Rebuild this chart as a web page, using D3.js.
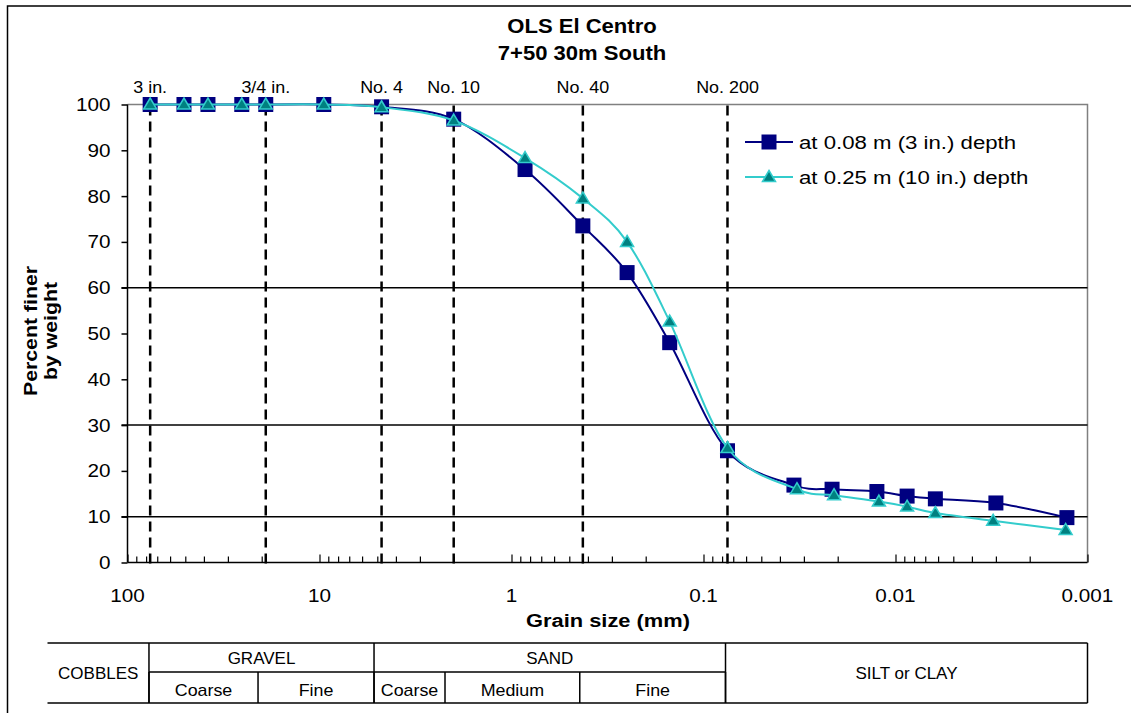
<!DOCTYPE html>
<meta charset="utf-8">
<body style="margin:0;background:#fff">
<script src="https://cdn.jsdelivr.net/npm/d3@7"></script>
<script>

    var width = 1131,
        height = 713;

    // grain sizes (mm): sieves shared by both samples, then hydrometer readings
    var sieveSizes = [76.2, 50.8, 38.1, 25.4, 19.05, 9.5, 4.75, 2.0, 0.85, 0.425, 0.25, 0.15, 0.075];
    var hydroSizes1 = [0.0338, 0.0214, 0.0125, 0.0087, 0.0062, 0.0030, 0.00128];
    var hydroSizes2 = [0.0326, 0.0209, 0.0122, 0.0087, 0.0062, 0.0031, 0.00130];

    // percent finer by weight
    var finer1 = [100, 100, 100, 100, 100, 100, 99.5, 96.8, 85.8, 73.5, 63.3, 48.0, 24.4,
                  16.9, 16.0, 15.5, 14.5, 13.9, 13.0, 9.8];
    var finer2 = [100, 100, 100, 100, 100, 100, 99.4, 96.5, 88.3, 79.5, 70.0, 52.6, 25.0,
                  16.0, 14.7, 13.3, 12.2, 10.8, 9.1, 7.1];

    var seriesNames = ["at 0.08 m (3 in.) depth", "at 0.25 m (10 in.) depth"];

    var sieveMarks = [76.2, 19.05, 4.75, 2.0, 0.425, 0.075];
    var sieveLabels = ["3 in.", "3/4 in.", "No. 4", "No. 10", "No. 40", "No. 200"];

    var yTicks = [0, 10, 20, 30, 40, 50, 60, 70, 80, 90, 100];
    var yRules = [10, 30, 60];
    var xDecades = [100, 10, 1, 0.1, 0.01, 0.001];
    var xDecadeLabels = ["100", "10", "1", "0.1", "0.01", "0.001"];

    // soil classification strip under the chart (boundaries as drawn in the picture, mm)
    var soilMain = ["COBBLES", "GRAVEL", "SAND", "SILT or CLAY"];
    var soilMainBounds = [77.3, 5.2, 0.0768];
    var soilSub = ["Coarse", "Fine", "Coarse", "Medium", "Fine"];
    var soilSubBounds = [77.3, 20.9, 5.2, 2.22, 0.441, 0.0768];

    var font = "'Liberation Sans', Arial, sans-serif";

    var svg = d3.select("body").append("svg")
            .attr("width", width)
            .attr("height", height)
            .style("font-family", font);

    svg.append("rect").attr("width", width).attr("height", height).attr("fill", "#fff");

    var x = d3.scaleLog().domain([100, 0.001]).range([127.5, 1087.5]);
    var y = d3.scaleLinear().domain([0, 100]).range([562.5, 104.5]);

    // text in the original is drawn a bit wider than normal Arial
    function label(g, px, py, str, size, sx, anchor, bold, rot) {
        return g.append("text")
                .attr("transform", "translate(" + px + "," + py + ")" + (rot ? " rotate(" + rot + ")" : "") + " scale(" + sx + ",1)")
                .attr("text-anchor", anchor || "middle")
                .attr("font-size", size)
                .attr("font-weight", bold ? "bold" : null)
                .attr("fill", "#000")
                .text(str);
    }

    // outer frame (top + left edges)
    svg.append("path")
            .attr("d", "M7.5," + height + "V6H" + width)
            .attr("fill", "none").attr("stroke", "#000").attr("stroke-width", 1.5);

    // title
    label(svg, 582, 33, "OLS El Centro", 21, 1.05, "middle", true);
    label(svg, 582, 60, "7+50 30m South", 21, 1.05, "middle", true);

    var x0 = x.range()[0], x1 = x.range()[1];

    // plot border (grey top/right)
    svg.append("path")
            .attr("d", "M" + x0 + "," + y(100) + "H" + x1 + "V" + y(0))
            .attr("fill", "none").attr("stroke", "#808080").attr("stroke-width", 1.5);

    // horizontal rules
    svg.selectAll(".rule").data(yRules).enter().append("line")
            .attr("x1", x0 - 6).attr("x2", x1)
            .attr("y1", function(d) { return y(d); })
            .attr("y2", function(d) { return y(d); })
            .attr("stroke", "#000").attr("stroke-width", 1.5);

    // sieve lines
    svg.selectAll(".sieve").data(sieveMarks).enter().append("line")
            .attr("x1", function(d) { return x(d); })
            .attr("x2", function(d) { return x(d); })
            .attr("y1", y(100) + 1).attr("y2", y(0) + 5)
            .attr("stroke", "#000").attr("stroke-width", 2.5)
            .attr("stroke-dasharray", "10,6");

    sieveMarks.forEach(function(d, i) {
        label(svg, x(d), 93, sieveLabels[i], 16, 1.12, "middle");
    });

    // y axis
    var yAxis = svg.append("g")
            .attr("transform", "translate(" + x0 + ",0)")
            .call(d3.axisLeft(y).tickValues(yTicks).tickSize(6).tickFormat(""));
    yAxis.select(".domain").attr("stroke-width", 1.5).attr("d", "M0," + y(100) + "V" + y(0));
    yAxis.selectAll(".tick line").attr("stroke-width", 1.5);
    yTicks.forEach(function(d) {
        label(svg, x0 - 17, y(d) + 6.5, d, 18, 1.15, "end");
    });

    // x axis: log minor ticks pointing up, decade labels below
    var minor = [];
    [10, 1, 0.1, 0.01, 0.001].forEach(function(dec) {
        for (var k = 2; k <= 9; k++) minor.push(dec * k);
    });
    var xAxis = svg.append("g")
            .attr("transform", "translate(0," + y(0) + ")")
            .call(d3.axisBottom(x).tickValues(minor).tickSize(-6).tickFormat(""));
    xAxis.select(".domain").attr("stroke-width", 1.5).attr("d", "M" + x0 + ",0H" + x1);
    xAxis.selectAll(".tick line").attr("stroke-width", 1.2);
    svg.append("g")
            .attr("transform", "translate(0," + y(0) + ")")
            .call(d3.axisBottom(x).tickValues(xDecades).tickSize(-8).tickFormat(""))
            .call(function(g) { g.select(".domain").remove(); g.selectAll("line").attr("stroke-width", 1.2); });
    xDecades.forEach(function(d, i) {
        label(svg, x(d), 602, xDecadeLabels[i], 18, 1.15, "middle");
    });

    // axis titles
    label(svg, 608, 627, "Grain size (mm)", 19, 1.15, "middle", true);
    label(svg, 37, 331, "Percent finer", 19, 1.12, "middle", true, -90);
    label(svg, 57, 331, "by weight", 19, 1.12, "middle", true, -90);

    // data series
    var pts1 = sieveSizes.concat(hydroSizes1).map(function(d, i) { return {size: d, pct: finer1[i]}; });
    var pts2 = sieveSizes.concat(hydroSizes2).map(function(d, i) { return {size: d, pct: finer2[i]}; });

    var line = d3.line()
            .x(function(d) { return x(d.size); })
            .y(function(d) { return y(d.pct); })
            .curve(d3.curveCardinal);

    var navy = "#000080", turq = "#33CCCC", teal = "#008080";
    var triPath = "M0,-6.5L6.5,4.5L-6.5,4.5Z";

    svg.append("path").datum(pts1).attr("d", line)
            .attr("fill", "none").attr("stroke", navy).attr("stroke-width", 2);
    svg.selectAll(".sq").data(pts1).enter().append("rect")
            .attr("x", function(d) { return x(d.size) - 7.5; })
            .attr("y", function(d) { return y(d.pct) - 7.5; })
            .attr("width", 15).attr("height", 15)
            .attr("fill", navy);

    svg.append("path").datum(pts2).attr("d", line)
            .attr("fill", "none").attr("stroke", turq).attr("stroke-width", 2);
    svg.selectAll(".tri").data(pts2).enter().append("path")
            .attr("d", triPath)
            .attr("transform", function(d) { return "translate(" + x(d.size) + "," + y(d.pct) + ")"; })
            .attr("fill", teal).attr("stroke", turq).attr("stroke-width", 1.5);

    // legend
    var legY = [142, 177];
    var leg = svg.append("g");
    legY.forEach(function(ly, i) {
        leg.append("line").attr("x1", 745).attr("x2", 793).attr("y1", ly).attr("y2", ly)
                .attr("stroke", i ? turq : navy).attr("stroke-width", 2);
        if (i === 0) {
            leg.append("rect").attr("x", 761.5).attr("y", ly - 7.5).attr("width", 15).attr("height", 15).attr("fill", navy);
        } else {
            leg.append("path").attr("d", triPath).attr("transform", "translate(769," + ly + ")")
                    .attr("fill", teal).attr("stroke", turq).attr("stroke-width", 1.5);
        }
        label(leg, 799, ly + 6.5, seriesNames[i], 18.5, 1.2, "start");
    });

    // classification table
    var tTop = 643, tMid = 672, tBot = 703;
    var tLeft = x0 - 80, tRight = x1;
    var tbl = svg.append("g").attr("stroke", "#000").attr("stroke-width", 1.5);
    tbl.append("line").attr("x1", tLeft).attr("x2", tRight).attr("y1", tTop).attr("y2", tTop);
    tbl.append("line").attr("x1", tLeft).attr("x2", tRight).attr("y1", tBot).attr("y2", tBot);
    tbl.append("line").attr("x1", x(soilMainBounds[0])).attr("x2", x(soilMainBounds[2])).attr("y1", tMid).attr("y2", tMid);
    soilMainBounds.concat([0.001]).forEach(function(d) {
        tbl.append("line").attr("x1", x(d)).attr("x2", x(d)).attr("y1", tTop).attr("y2", tBot);
    });
    soilSubBounds.forEach(function(d) {
        tbl.append("line").attr("x1", x(d)).attr("x2", x(d)).attr("y1", tMid).attr("y2", tBot);
    });

    var mainEdges = [tLeft].concat(soilMainBounds.map(x)).concat([tRight]);
    soilMain.forEach(function(s, i) {
        var cx = (mainEdges[i] + mainEdges[i + 1]) / 2;
        var single = (i === 0 || i === 3);
        label(svg, cx, single ? 679 : 664, s, 17, 1.0, "middle");
    });
    soilSub.forEach(function(s, i) {
        var cx = (x(soilSubBounds[i]) + x(soilSubBounds[i + 1])) / 2;
        label(svg, cx, 696, s, 17, 1.05, "middle");
    });

</script>
